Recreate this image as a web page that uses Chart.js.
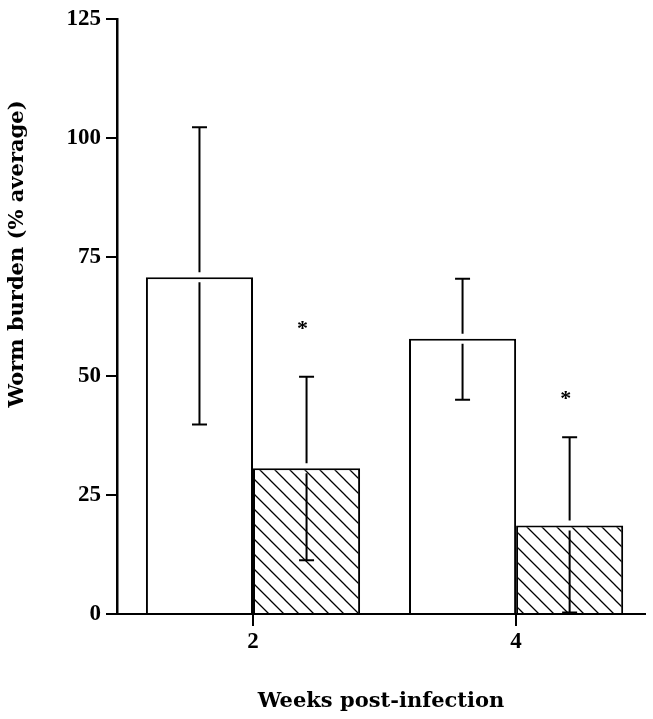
<!DOCTYPE html>
<html>
<head>
<meta charset="utf-8">
<script src="https://cdn.jsdelivr.net/npm/chart.js@4.4.1/dist/chart.umd.min.js"></script>
<style>
  html, body { margin: 0; padding: 0; background: #fff; }
  #wrap { width: 653px; height: 719px; position: relative; }
</style>
</head>
<body>
<div id="wrap"><canvas id="chart"></canvas></div>
<script>
// week 2 and week 4 post-infection
const weeks = [2, 4];
const yTicks = [0, 25, 50, 75, 100, 125];

// open bars (control)
const controlMeans = [70.7, 57.8];
const controlUpper = [102.2, 70.4];
const controlLower = [39.8, 45.0];

// hatched bars (treated)
const treatedMeans = [30.6, 18.6];
const treatedUpper = [49.8, 37.1];
const treatedLower = [11.3, 0.3];
const treatedStars = [61.0, 46.3];

const xTitle = "Weeks post-infection";
const yTitle = "Worm burden (% average)";

const tickFont = { family: "'Liberation Serif', serif", size: 23, weight: "bold" };
const titleFamily = "'DejaVu Serif', serif";

function makeHatch() {
    let c = document.createElement("canvas");
    c.width = 15;
    c.height = 15;
    let g = c.getContext("2d");
    g.fillStyle = "#fff";
    g.fillRect(0, 0, 15, 15);
    g.strokeStyle = "#000";
    g.lineWidth = 1.3;
    g.beginPath();
    g.moveTo(-2, -2); g.lineTo(17, 17);
    g.moveTo(-2, 13); g.lineTo(2, 17);
    g.moveTo(13, -2); g.lineTo(17, 2);
    g.stroke();
    return g.createPattern(c, "repeat");
}

// error bars with a small gap where they cross the bar top, plus stars
const errorBars = {
    id: "errorBars",
    afterDatasetsDraw(chart) {
        let ctx = chart.ctx;
        let yScale = chart.scales.y;
        let sets = [
            { upper: controlUpper, lower: controlLower, stars: null },
            { upper: treatedUpper, lower: treatedLower, stars: treatedStars }
        ];
        ctx.save();
        ctx.strokeStyle = "#000";
        ctx.lineWidth = 2;
        sets.forEach((s, di) => {
            let meta = chart.getDatasetMeta(di);
            meta.data.forEach((el, i) => {
                let x = el.x;
                let top = yScale.getPixelForValue(s.upper[i]);
                let bot = yScale.getPixelForValue(s.lower[i]);
                let barTop = el.y;
                ctx.beginPath();
                ctx.moveTo(x, top);
                ctx.lineTo(x, barTop - 5);
                ctx.moveTo(x, barTop + 5);
                ctx.lineTo(x, bot);
                ctx.moveTo(x - 7.5, top);
                ctx.lineTo(x + 7.5, top);
                ctx.moveTo(x - 7.5, bot);
                ctx.lineTo(x + 7.5, bot);
                ctx.stroke();
                if (s.stars) {
                    ctx.fillStyle = "#000";
                    ctx.font = "bold 22px 'Liberation Serif', serif";
                    ctx.textAlign = "center";
                    ctx.textBaseline = "alphabetic";
                    ctx.fillText("*", x - 4, yScale.getPixelForValue(s.stars[i]) + 11);
                }
            });
        });
        ctx.restore();
    }
};

// rotated y axis title
const yTitlePlugin = {
    id: "yTitlePlugin",
    afterDraw(chart) {
        let ctx = chart.ctx;
        ctx.save();
        ctx.translate(23, 254);
        ctx.rotate(-Math.PI / 2);
        ctx.fillStyle = "#000";
        ctx.font = "bold 21px " + titleFamily;
        ctx.textAlign = "center";
        ctx.textBaseline = "alphabetic";
        ctx.fillText(yTitle, 0, 0);
        ctx.restore();
    }
};

let ctx = document.getElementById("chart").getContext("2d");

new Chart(ctx, {
    type: "bar",
    data: {
        datasets: [{
            label: "Control",
            data: weeks.map((w, i) => ({ x: w, y: controlMeans[i] })),
            backgroundColor: "#fff",
            borderColor: "#000",
            borderWidth: 2
        }, {
            label: "Treated",
            data: weeks.map((w, i) => ({ x: w, y: treatedMeans[i] })),
            backgroundColor: makeHatch(),
            borderColor: "#000",
            borderWidth: 2
        }]
    },
    options: {
        responsive: true,
        maintainAspectRatio: false,
        animation: false,
        categoryPercentage: 0.814,
        barPercentage: 1.0,
        layout: { padding: { top: 17, right: 8, left: 0, bottom: 0 } },
        plugins: {
            legend: { display: false },
            tooltip: { enabled: false }
        },
        scales: {
            x: {
                type: "linear",
                min: 0.966,
                max: 4.98,
                offset: false,
                afterBuildTicks: scale => {
                    scale.ticks = weeks.map(v => ({ value: v }));
                },
                afterFit: scale => { scale.height = 105; },
                grid: {
                    offset: false,
                    drawOnChartArea: false,
                    drawTicks: true,
                    tickLength: 12,
                    color: "#000",
                    lineWidth: 2
                },
                border: { color: "#000", width: 2 },
                ticks: {
                    color: "#000",
                    font: tickFont,
                    padding: 2,
                    autoSkip: false,
                    maxRotation: 0
                },
                title: {
                    display: true,
                    text: xTitle,
                    color: "#000",
                    font: { family: titleFamily, size: 21, weight: "bold" },
                    padding: { top: 0, bottom: 5 }
                }
            },
            y: {
                min: 0,
                max: 125,
                afterBuildTicks: scale => {
                    scale.ticks = yTicks.map(v => ({ value: v }));
                },
                afterFit: scale => { scale.width = 117; },
                grid: {
                    drawOnChartArea: false,
                    drawTicks: true,
                    tickLength: 11,
                    color: "#000",
                    lineWidth: 2
                },
                border: { color: "#000", width: 2.5 },
                ticks: {
                    color: "#000",
                    font: tickFont,
                    padding: 5
                }
            }
        }
    },
    plugins: [errorBars, yTitlePlugin]
});
</script>
</body>
</html>
